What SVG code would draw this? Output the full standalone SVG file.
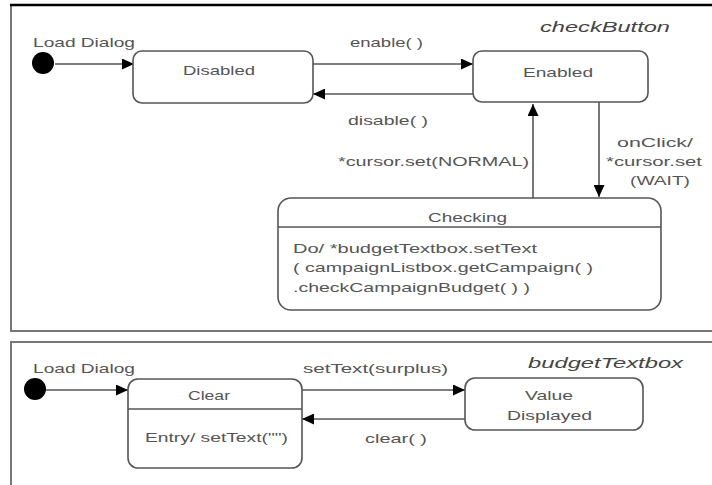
<svg xmlns="http://www.w3.org/2000/svg" width="712" height="485" viewBox="0 0 712 485">
  <defs>
    <marker id="arrow" viewBox="0 0 12 11" refX="12" refY="5.5" markerWidth="12" markerHeight="11" markerUnits="userSpaceOnUse" orient="auto">
      <path d="M0,0 L12,5.5 L0,11 Z" fill="#000"/>
    </marker>
    <style>
      text { font-family: "Liberation Sans", Arial, sans-serif; font-size: 13px; fill: #555; }
      .title { font-style: italic; font-size: 15px; fill: #444; }
      .state { fill: #fff; stroke: #555; stroke-width: 1.6; }
      .divider { stroke: #555; stroke-width: 1.4; }
      .frame { fill: none; stroke: #777; stroke-width: 2; }
      .edge { fill: none; stroke: #555; stroke-width: 1.6; marker-end: url(#arrow); }
      .start { fill: #000; }
    </style>
  </defs>

  <rect width="712" height="485" fill="#fff"/>

  <!-- checkButton frame -->
  <g id="frame-checkButton">
    <path class="frame" d="M716,331 H11 V5"/>
    <line x1="10" y1="5" x2="716" y2="5" stroke="#000" stroke-width="2.5"/>
    <text class="title" x="540" y="32" textLength="130" lengthAdjust="spacingAndGlyphs">checkButton</text>
  </g>

  <!-- budgetTextbox frame -->
  <g id="frame-budgetTextbox">
    <path class="frame" d="M11,490 V342 H716"/>
    <text class="title" x="528" y="368" textLength="155" lengthAdjust="spacingAndGlyphs">budgetTextbox</text>
  </g>

  <!-- connectors -->
  <g id="connectors">
    <line class="edge" x1="55" y1="64" x2="134" y2="64"/>
    <line class="edge" x1="313" y1="64" x2="473" y2="64"/>
    <line class="edge" x1="473" y1="94" x2="313" y2="94"/>
    <line class="edge" x1="599" y1="102" x2="599" y2="197"/>
    <line class="edge" x1="533" y1="198" x2="533" y2="104"/>
    <line class="edge" x1="46" y1="390" x2="128" y2="390"/>
    <line class="edge" x1="302" y1="390" x2="465" y2="390"/>
    <line class="edge" x1="465" y1="419" x2="302" y2="419"/>

    <text x="33" y="47" textLength="102" lengthAdjust="spacingAndGlyphs">Load  Dialog</text>
    <text x="350" y="47" textLength="73" lengthAdjust="spacingAndGlyphs">enable( )</text>
    <text x="348" y="125" textLength="80" lengthAdjust="spacingAndGlyphs">disable( )</text>
    <text x="338" y="166" textLength="191" lengthAdjust="spacingAndGlyphs">*cursor.set(NORMAL)</text>
    <text x="617" y="147" textLength="76" lengthAdjust="spacingAndGlyphs">onClick/</text>
    <text x="606" y="166" textLength="96" lengthAdjust="spacingAndGlyphs">*cursor.set</text>
    <text x="630" y="185" textLength="60" lengthAdjust="spacingAndGlyphs">(WAIT)</text>

    <text x="33" y="373" textLength="102" lengthAdjust="spacingAndGlyphs">Load  Dialog</text>
    <text x="303" y="373" textLength="145" lengthAdjust="spacingAndGlyphs">setText(surplus)</text>
    <text x="365" y="443" textLength="62" lengthAdjust="spacingAndGlyphs">clear( )</text>
  </g>

  <!-- checkButton states -->
  <g id="start-checkButton">
    <circle class="start" cx="43" cy="63" r="11"/>
  </g>

  <g id="state-disabled">
    <rect class="state" x="133" y="51" width="180" height="52" rx="9"/>
    <text x="183" y="75" textLength="72" lengthAdjust="spacingAndGlyphs">Disabled</text>
  </g>

  <g id="state-enabled">
    <rect class="state" x="473" y="51" width="175" height="51" rx="9"/>
    <text x="523" y="77" textLength="70" lengthAdjust="spacingAndGlyphs">Enabled</text>
  </g>

  <g id="state-checking">
    <rect class="state" x="278" y="198" width="383" height="112" rx="13"/>
    <line class="divider" x1="278" y1="227" x2="661" y2="227"/>
    <text x="428" y="222" textLength="79" lengthAdjust="spacingAndGlyphs">Checking</text>
    <text x="293" y="253" textLength="244" lengthAdjust="spacingAndGlyphs">Do/ *budgetTextbox.setText</text>
    <text x="293" y="272" textLength="300" lengthAdjust="spacingAndGlyphs">( campaignListbox.getCampaign( )</text>
    <text x="293" y="292" textLength="237" lengthAdjust="spacingAndGlyphs">.checkCampaignBudget( ) )</text>
  </g>

  <!-- budgetTextbox states -->
  <g id="start-budgetTextbox">
    <circle class="start" cx="35" cy="389" r="11"/>
  </g>

  <g id="state-clear">
    <rect class="state" x="128" y="379" width="174" height="89" rx="10"/>
    <line class="divider" x1="128" y1="409" x2="302" y2="409"/>
    <text x="188" y="400" textLength="42" lengthAdjust="spacingAndGlyphs">Clear</text>
    <text x="145" y="442" textLength="143" lengthAdjust="spacingAndGlyphs">Entry/ setText("")</text>
  </g>

  <g id="state-value-displayed">
    <rect class="state" x="465" y="378" width="178" height="52" rx="10"/>
    <text x="525" y="400" textLength="48" lengthAdjust="spacingAndGlyphs">Value</text>
    <text x="507" y="420" textLength="85" lengthAdjust="spacingAndGlyphs">Displayed</text>
  </g>
</svg>
